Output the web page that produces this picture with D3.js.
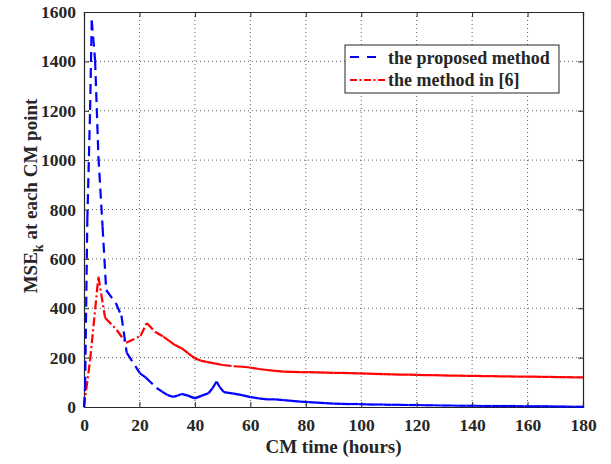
<!DOCTYPE html>
<html lang="en">
  <head>
    <meta charset="UTF-8" />
    <title>MSE at each CM point</title>
    <script src="https://d3js.org/d3.v7.min.js"></script>
    <style>
      body { margin: 0; background: #fff; }
      text { font-family: "Liberation Serif", "Times New Roman", serif; font-weight: bold; fill: #262626; }
    </style>
  </head>
  <body>
    <svg width="611" height="464"></svg>
    <script>
      // proposed method (blue, dashed)
      const blueX = [0, 0.4, 1.2, 2.2, 2.8, 4, 5.2, 6.7, 8, 11.5, 13.5, 15.4, 20.2, 22.2, 26.2, 28.2, 30.2, 32.2, 33.7, 35.2, 37.5, 40, 42.5, 44.9, 46.3, 47.8, 49, 50.5,
        54, 57, 60, 63, 66, 69, 72, 75, 78, 81, 84, 87, 90, 93, 96, 99, 102, 105, 108, 111, 114, 117, 120, 123, 126, 129, 132, 135, 138, 141, 144, 147, 150, 153, 156, 159, 162, 165, 168, 171, 174, 177, 180];
      const blueY = [0, 82, 757, 1203, 1565, 1405, 1014, 730, 474, 420, 370, 220, 136, 120, 77, 62, 48, 41, 46, 53, 46, 35, 46, 56, 75, 103, 80, 60,
        54, 48, 40, 35, 31, 31, 28, 25, 22, 20, 18, 16, 14, 13, 12, 12, 11, 10, 10, 9, 9, 8, 8, 7, 7, 6, 6, 5, 5, 5, 4, 4, 4, 4, 4, 3, 3, 3, 3, 2, 2, 1, 1];
      // method in [6] (red, dash-dot)
      const redX = [0, 2.2, 5.2, 7.6, 11.8, 15.2, 20.4, 22.6, 25.6, 28.6, 30.5, 32.8, 35.2, 37.5, 40, 42, 44.2, 47, 50,
        54, 57, 60, 63, 66, 69, 72, 75, 78, 81, 84, 87, 90, 93, 96, 99, 102, 105, 108, 111, 114, 117, 120, 123, 126, 129, 132, 135, 138, 141, 144, 147, 150, 153, 156, 159, 162, 165, 168, 171, 174, 177, 180];
      const redY = [0, 190, 528, 362, 312, 260, 288, 340, 305, 285, 270, 251, 238, 218, 197, 188, 183, 177, 170,
        165, 163, 160, 154, 150, 146, 143, 142, 141, 141, 140, 139, 138, 138, 137, 136, 135, 134, 133, 132, 131, 131, 130, 129, 129, 128, 127, 127, 126, 126, 125, 125, 124, 124, 123, 123, 123, 122, 122, 121, 121, 120, 120];

      const xTicks = d3.range(0, 181, 20);
      const yTicks = d3.range(0, 1601, 200);
      const legendLabels = ["the proposed method", "the method in [6]"];

      const svg = d3.select("svg");
      const L = 84, R = 583, T = 12, B = 407;
      const x = d3.scaleLinear().domain([0, 180]).range([L, R]);
      const y = d3.scaleLinear().domain([0, 1600]).range([B, T]);
      const fmt = d3.format("d");

      // grid
      const grid = svg.append("g").attr("stroke", "#444").attr("stroke-width", 1)
        .attr("stroke-dasharray", "1,3").attr("opacity", 0.85);
      xTicks.slice(1, -1).forEach(function (t) {
        grid.append("line").attr("x1", x(t)).attr("x2", x(t)).attr("y1", T).attr("y2", B);
      });
      yTicks.slice(1, -1).forEach(function (t) {
        grid.append("line").attr("x1", L).attr("x2", R).attr("y1", y(t)).attr("y2", y(t));
      });

      // axes (ticks inward, box on)
      const tk = 5;
      svg.append("g").attr("transform", `translate(0,${B})`)
        .call(d3.axisBottom(x).tickValues(xTicks).tickSize(-tk).tickPadding(12).tickFormat(fmt))
        .call(g => g.selectAll("text").attr("font-size", 17.5));
      svg.append("g").attr("transform", `translate(0,${T})`)
        .call(d3.axisTop(x).tickValues(xTicks).tickSize(-tk).tickFormat(""));
      svg.append("g").attr("transform", `translate(${L},0)`)
        .call(d3.axisLeft(y).tickValues(yTicks).tickSize(-tk).tickPadding(8).tickFormat(fmt))
        .call(g => g.selectAll("text").attr("font-size", 17.5));
      svg.append("g").attr("transform", `translate(${R},0)`)
        .call(d3.axisRight(y).tickValues(yTicks).tickSize(-tk).tickFormat(""));
      svg.selectAll(".domain").attr("stroke", "#262626").attr("stroke-width", 1.2);
      svg.selectAll(".tick line").attr("stroke", "#262626");
      svg.selectAll(".tick text").attr("fill", "#262626").attr("font-family", "Liberation Serif").attr("font-weight", "bold");

      // curves, drawn segment by segment so the dash pattern restarts like MATLAB
      const line = d3.line().x(d => x(d[0])).y(d => y(d[1]));
      function drawSeries(xs, ys, color, dash) {
        const pts = xs.map((v, i) => [v, ys[i]]);
        svg.append("g").selectAll("path").data(d3.pairs(pts)).enter().append("path")
          .attr("d", d => line(d))
          .attr("fill", "none").attr("stroke", color).attr("stroke-width", 2.2)
          .attr("stroke-dasharray", dash);
      }
      drawSeries(redX, redY, "#ff0000", "9,3,2,3");
      drawSeries(blueX, blueY, "#0000ff", "10,6");

      // legend
      const lg = svg.append("g");
      lg.append("rect").attr("x", 345).attr("y", 45).attr("width", 214).attr("height", 48)
        .attr("fill", "#fff").attr("stroke", "#262626").attr("stroke-width", 1);
      lg.append("line").attr("x1", 350).attr("x2", 380).attr("y1", 57).attr("y2", 57)
        .attr("stroke", "#0000ff").attr("stroke-width", 2.2).attr("stroke-dasharray", "9,8");
      lg.append("line").attr("x1", 350).attr("x2", 385).attr("y1", 80).attr("y2", 80)
        .attr("stroke", "#ff0000").attr("stroke-width", 2.2).attr("stroke-dasharray", "7,2.5,2,2.5");
      legendLabels.forEach(function (s, i) {
        lg.append("text").attr("x", 388).attr("y", 64 + i * 22).attr("font-size", 18).text(s);
      });

      // axis labels
      svg.append("text").attr("x", (L + R) / 2).attr("y", 453).attr("text-anchor", "middle")
        .attr("font-size", 19).text("CM time (hours)");
      const yl = svg.append("text").attr("transform", "translate(37,196) rotate(-90)")
        .attr("text-anchor", "middle").attr("font-size", 19);
      yl.append("tspan").text("MSE");
      yl.append("tspan").attr("font-size", 14).attr("dy", 6).text("k");
      yl.append("tspan").attr("dy", -6).text(" at each CM point");
    </script>
  </body>
</html>
